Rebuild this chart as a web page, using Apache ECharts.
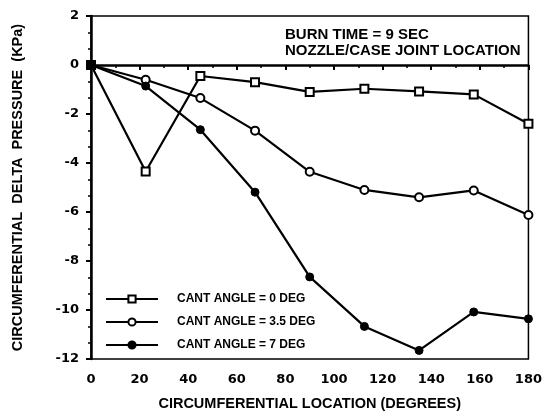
<!DOCTYPE html>
<html>
<head>
<meta charset="utf-8">
<script src="https://cdn.jsdelivr.net/npm/echarts@6/dist/echarts.min.js"></script>
<style>
  html, body { margin: 0; padding: 0; background: #fff; }
  #chart { width: 545px; height: 418px; }
</style>
</head>
<body>
<div id="chart"></div>
<script>
// circumferential location (degrees)
var locations = [0, 22.5, 45, 67.5, 90, 112.5, 135, 157.5, 180]
// delta pressure (KPa) per cant angle
var cant0 = [0, -4.35, -0.45, -0.7, -1.1, -0.97, -1.08, -1.2, -2.4]
var cant35 = [0, -0.6, -1.35, -2.68, -4.36, -5.1, -5.4, -5.12, -6.12]
var cant7 = [0, -0.86, -2.64, -5.19, -8.65, -10.67, -11.65, -10.08, -10.36]
var seriesNames = ['CANT ANGLE = 0 DEG', 'CANT ANGLE = 3.5 DEG', 'CANT ANGLE = 7 DEG']

function pairs(vals) {
  return locations.map(function (x, i) { return [x, vals[i]] })
}

var tickFont = { fontFamily: 'DejaVu Sans', fontWeight: 'bold', fontSize: 13, color: '#000' }
var titleFont = { fontFamily: 'Liberation Sans', fontWeight: 'bold', fontSize: 14.5, color: '#000' }

var chart = echarts.init(document.getElementById('chart'))
chart.setOption({
  animation: false,
  backgroundColor: '#fff',
  title: {
    text: 'BURN TIME = 9 SEC\nNOZZLE/CASE JOINT LOCATION',
    left: 280,
    top: 22,
    textStyle: { fontFamily: 'Liberation Sans', fontWeight: 'bold', fontSize: 15, lineHeight: 16, color: '#000' }
  },
  grid: {
    left: 91,
    right: 14,
    top: 16,
    bottom: 59,
    show: true,
    borderColor: '#000',
    borderWidth: 1.5
  },
  legend: {
    orient: 'vertical',
    left: 100,
    top: 288,
    itemWidth: 52,
    itemHeight: 9,
    itemGap: 11,
    data: seriesNames,
    textStyle: { fontFamily: 'Liberation Sans', fontWeight: 'bold', fontSize: 12, color: '#000', padding: [0, 0, 0, 14] }
  },
  xAxis: {
    type: 'value',
    min: 0,
    max: 180,
    interval: 20,
    name: 'CIRCUMFERENTIAL LOCATION (DEGREES)',
    nameLocation: 'middle',
    nameGap: 37,
    nameTextStyle: titleFont,
    axisLine: { lineStyle: { color: '#000', width: 2.5 } },
    axisTick: { length: 5, lineStyle: { color: '#000', width: 2 } },
    minorTick: { show: true, splitNumber: 2, length: 3, lineStyle: { color: '#000', width: 1.5 } },
    axisLabel: Object.assign({ margin: 14 }, tickFont),
    splitLine: { show: false }
  },
  yAxis: {
    type: 'value',
    min: -12,
    max: 2,
    interval: 2,
    name: 'CIRCUMFERENTIAL  DELTA  PRESSURE  (KPa)',
    nameLocation: 'middle',
    nameGap: 66,
    nameTextStyle: titleFont,
    axisLine: { lineStyle: { color: '#000', width: 2.5 } },
    axisTick: { length: 5, lineStyle: { color: '#000', width: 2 } },
    minorTick: { show: true, splitNumber: 3, length: 3, lineStyle: { color: '#000', width: 1.5 } },
    axisLabel: Object.assign({ margin: 12 }, tickFont),
    splitLine: { show: false }
  },
  series: [
    {
      name: seriesNames[0],
      type: 'line',
      symbol: 'rect',
      symbolSize: 8,
      lineStyle: { color: '#000', width: 2.2 },
      itemStyle: { color: '#fff', borderColor: '#000', borderWidth: 2 },
      data: pairs(cant0)
    },
    {
      name: seriesNames[1],
      type: 'line',
      symbol: 'circle',
      symbolSize: 8,
      lineStyle: { color: '#000', width: 2.2 },
      itemStyle: { color: '#fff', borderColor: '#000', borderWidth: 2 },
      data: pairs(cant35)
    },
    {
      name: seriesNames[2],
      type: 'line',
      symbol: 'circle',
      symbolSize: 8,
      lineStyle: { color: '#000', width: 2.2 },
      itemStyle: { color: '#000', borderColor: '#000', borderWidth: 1 },
      data: pairs(cant7)
    }
  ]
})
</script>
</body>
</html>
